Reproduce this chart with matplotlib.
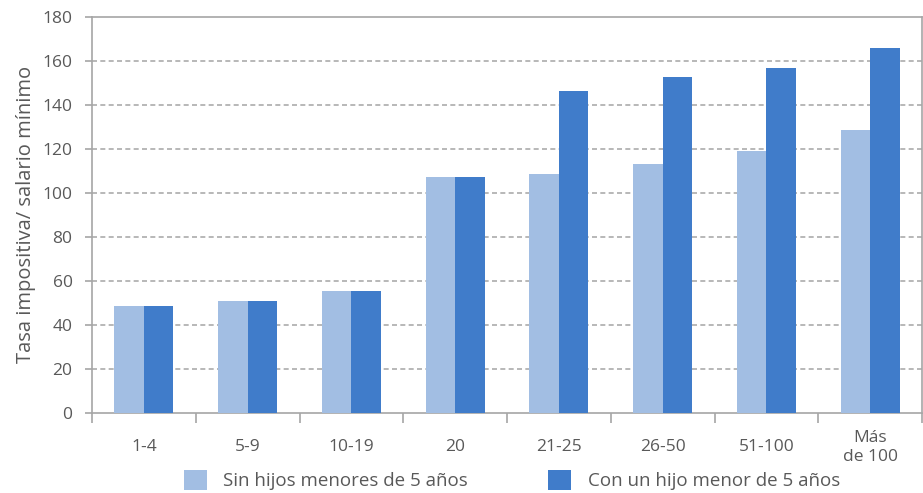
import matplotlib
matplotlib.use("Agg")
import matplotlib.pyplot as plt
import numpy as np

categories = ["1-4", "5-9", "10-19", "20", "21-25", "26-50", "51-100", "Más\nde 100"]
sin_hijos = [48.5, 50.8, 55.4, 107.1, 108.6, 113.1, 119.1, 128.6]
con_hijo = [48.5, 50.8, 55.4, 107.1, 146.4, 152.7, 156.8, 165.9]
series_names = ["Sin hijos menores de 5 años", "Con un hijo menor de 5 años"]
yticks = [0, 20, 40, 60, 80, 100, 120, 140, 160, 180]

light = "#A2BEE3"
dark = "#407CCA"
txt = "#595959"
grid = "#ABABAB"

plt.rcParams['font.family'] = ['Open Sans', 'DejaVu Sans']

fig = plt.figure(figsize=(9.23, 4.93), dpi=100)
ax = fig.add_axes([92/923, (493-412.7)/493, (922-92)/923, (412.7-17)/493])

x = np.arange(len(categories))
w = 0.285
ax.bar(x - w/2, sin_hijos, width=w, color=light, label=series_names[0], zorder=3)
ax.bar(x + w/2, con_hijo, width=w, color=dark, label=series_names[1], zorder=3)

ax.set_xlim(-0.5, len(categories) - 0.5)
ax.set_ylim(0, 180)
ax.set_yticks(yticks)
ax.set_yticklabels([str(t) for t in yticks])
for t in yticks[1:-1]:
    ax.axhline(t, color=grid, lw=1.2, ls=(0, (3, 2)), zorder=1)

# boundaries as major ticks, labels as minor ticks
ax.set_xticks(np.arange(-0.5, len(categories), 1.0))
ax.set_xticklabels([])
ax.set_xticks(x, minor=True)
ax.set_xticklabels(categories, minor=True)
ax.tick_params(axis='x', which='major', length=7, width=1.2, color="#A6A6A6", direction='out')
ax.tick_params(axis='x', which='minor', length=0, pad=25, labelsize=12.5, labelcolor=txt)
for lab in ax.get_xticklabels(minor=True):
    lab.set_verticalalignment('center')
    lab.set_linespacing(1.2)
ax.tick_params(axis='y', length=5, width=1.2, color="#A6A6A6", pad=9, labelsize=12.5, labelcolor=txt)

for s in ax.spines.values():
    s.set_color("#A6A6A6")
    s.set_linewidth(1.2)

ax.set_ylabel("Tasa impositiva/ salario mínimo", fontsize=14.5, color=txt, labelpad=5)

fig.legend(loc='center', bbox_to_anchor=(512/923, 13/493), ncol=2, frameon=False,
           fontsize=13.5, labelcolor=txt, handlelength=1.23, handleheight=1.23,
           handletextpad=0.9, columnspacing=4.27)

fig.savefig("out.png", dpi=100)
